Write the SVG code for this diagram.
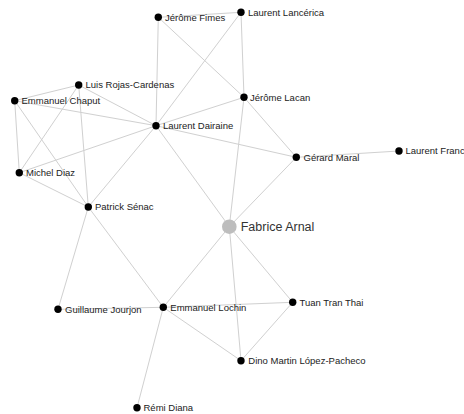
<svg xmlns="http://www.w3.org/2000/svg" width="464" height="414" viewBox="0 0 464 414">
<style>
.e{stroke:#d0d0d0;stroke-width:1;fill:none}
.n{fill:#000}
.c{fill:#bdbdbd}
text{font-family:"Liberation Sans",Arial,sans-serif;font-size:9.5px;fill:#222}
.big{font-size:12.5px;fill:#333}
</style>
<rect width="464" height="414" fill="#fff"/>
<g id="edges">
<line class="e" x1="158.3" y1="17.3" x2="241" y2="12.3"/>
<line class="e" x1="158.3" y1="17.3" x2="156" y2="125.7"/>
<line class="e" x1="158.3" y1="17.3" x2="244" y2="97.3"/>
<line class="e" x1="241" y1="12.3" x2="156" y2="125.7"/>
<line class="e" x1="241" y1="12.3" x2="244" y2="97.3"/>
<line class="e" x1="244" y1="97.3" x2="156" y2="125.7"/>
<line class="e" x1="244" y1="97.3" x2="296.3" y2="157.3"/>
<line class="e" x1="244" y1="97.3" x2="229.3" y2="226.7"/>
<line class="e" x1="156" y1="125.7" x2="296.3" y2="157.3"/>
<line class="e" x1="156" y1="125.7" x2="229.3" y2="226.7"/>
<line class="e" x1="156" y1="125.7" x2="78.7" y2="85"/>
<line class="e" x1="156" y1="125.7" x2="14.7" y2="100.7"/>
<line class="e" x1="156" y1="125.7" x2="19.3" y2="172.7"/>
<line class="e" x1="156" y1="125.7" x2="88.3" y2="207"/>
<line class="e" x1="296.3" y1="157.3" x2="399" y2="151"/>
<line class="e" x1="296.3" y1="157.3" x2="229.3" y2="226.7"/>
<line class="e" x1="78.7" y1="85" x2="14.7" y2="100.7"/>
<line class="e" x1="78.7" y1="85" x2="19.3" y2="172.7"/>
<line class="e" x1="78.7" y1="85" x2="88.3" y2="207"/>
<line class="e" x1="14.7" y1="100.7" x2="19.3" y2="172.7"/>
<line class="e" x1="14.7" y1="100.7" x2="88.3" y2="207"/>
<line class="e" x1="19.3" y1="172.7" x2="88.3" y2="207"/>
<line class="e" x1="88.3" y1="207" x2="58" y2="309.3"/>
<line class="e" x1="88.3" y1="207" x2="163.3" y2="307.3"/>
<line class="e" x1="229.3" y1="226.7" x2="163.3" y2="307.3"/>
<line class="e" x1="229.3" y1="226.7" x2="292.7" y2="302.3"/>
<line class="e" x1="229.3" y1="226.7" x2="241" y2="360.7"/>
<line class="e" x1="163.3" y1="307.3" x2="58" y2="309.3"/>
<line class="e" x1="163.3" y1="307.3" x2="292.7" y2="302.3"/>
<line class="e" x1="163.3" y1="307.3" x2="241" y2="360.7"/>
<line class="e" x1="163.3" y1="307.3" x2="137" y2="407.7"/>
<line class="e" x1="292.7" y1="302.3" x2="241" y2="360.7"/>
</g>
<g id="fimes"><circle class="n" cx="158.3" cy="17.3" r="3.7"/><text x="165" y="20.7">Jérôme Fimes</text></g>
<g id="lancerica"><circle class="n" cx="241" cy="12.3" r="3.7"/><text x="248" y="15.7">Laurent Lancérica</text></g>
<g id="rojas"><circle class="n" cx="78.7" cy="85" r="3.7"/><text x="85.5" y="88.4">Luis Rojas-Cardenas</text></g>
<g id="chaput"><circle class="n" cx="14.7" cy="100.7" r="3.7"/><text x="21.5" y="104.1">Emmanuel Chaput</text></g>
<g id="dairaine"><circle class="n" cx="156" cy="125.7" r="3.7"/><text x="163" y="129.1">Laurent Dairaine</text></g>
<g id="lacan"><circle class="n" cx="244" cy="97.3" r="3.7"/><text x="250" y="100.7">Jérôme Lacan</text></g>
<g id="maral"><circle class="n" cx="296.3" cy="157.3" r="3.7"/><text x="303.5" y="160.7">Gérard Maral</text></g>
<g id="franck"><circle class="n" cx="399" cy="151" r="3.7"/><text x="405.5" y="154.4">Laurent Franc</text></g>
<g id="diaz"><circle class="n" cx="19.3" cy="172.7" r="3.7"/><text x="26" y="176.1">Michel Diaz</text></g>
<g id="senac"><circle class="n" cx="88.3" cy="207" r="3.7"/><text x="95" y="210.4">Patrick Sénac</text></g>
<g id="arnal"><circle class="c" cx="229.3" cy="226.7" r="7.3"/><text class="big" x="240.7" y="231.2">Fabrice Arnal</text></g>
<g id="jourjon"><circle class="n" cx="58" cy="309.3" r="3.7"/><text x="65" y="312.7">Guillaume Jourjon</text></g>
<g id="lochin"><circle class="n" cx="163.3" cy="307.3" r="3.7"/><text x="170.3" y="310.7">Emmanuel Lochin</text></g>
<g id="tuan"><circle class="n" cx="292.7" cy="302.3" r="3.7"/><text x="299.5" y="305.7">Tuan Tran Thai</text></g>
<g id="dino"><circle class="n" cx="241" cy="360.7" r="3.7"/><text x="248.3" y="364.1">Dino Martin López-Pacheco</text></g>
<g id="diana"><circle class="n" cx="137" cy="407.7" r="3.7"/><text x="143.5" y="411.1">Rémi Diana</text></g>
</svg>
